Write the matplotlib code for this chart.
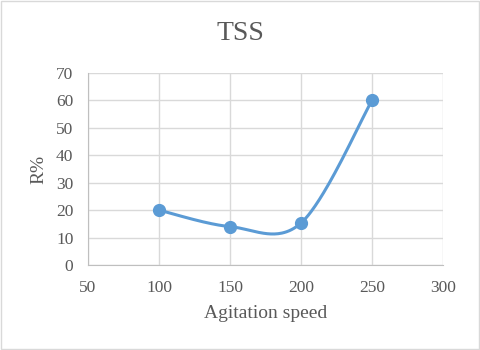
import numpy as np
import matplotlib
matplotlib.use("Agg")
import matplotlib.pyplot as plt
from matplotlib.patches import Rectangle

speed = [100, 150, 200, 250]
removal = [20, 14, 15.3, 60]

plt.rcParams['font.family'] = ['Liberation Serif', 'DejaVu Serif']
grey = '#595959'
blue = '#5B9BD5'


def excel_smooth(xs, ys, n=60):
    # Catmull-Rom style bezier, like Excel's "smoothed line"
    p = np.column_stack([xs, ys]).astype(float)
    pts = [p[0]]
    for i in range(len(p) - 1):
        p0 = p[i - 1] if i > 0 else p[i]
        p3 = p[i + 2] if i + 2 < len(p) else p[i + 1]
        c1 = p[i] + (p[i + 1] - p0) / 6
        c2 = p[i + 1] - (p3 - p[i]) / 6
        t = np.linspace(0, 1, n)[1:, None]
        seg = ((1 - t) ** 3) * p[i] + 3 * ((1 - t) ** 2) * t * c1 \
            + 3 * (1 - t) * t ** 2 * c2 + t ** 3 * p[i + 1]
        pts.extend(seg)
    pts = np.array(pts)
    return pts[:, 0], pts[:, 1]


fig = plt.figure(figsize=(4.8, 3.5), dpi=100)
ax = fig.add_axes([88 / 480, 1 - 265 / 350, (443 - 88) / 480, (265 - 73) / 350])

sx, sy = excel_smooth(speed, removal)
ax.plot(sx, sy, color=blue, lw=2.2, solid_capstyle='round', zorder=3)
ax.plot(speed, removal, 'o', color=blue, ms=8.5, zorder=4)

ax.set_xlim(50, 300)
ax.set_ylim(0, 70)
ax.set_xticks(range(50, 301, 50))
ax.set_yticks(range(0, 71, 10))
ax.grid(True, color='#D9D9D9', lw=1)
ax.set_axisbelow(True)
for s in ['top', 'right']:
    ax.spines[s].set_visible(False)
ax.spines['left'].set_color('#BFBFBF')
ax.spines['bottom'].set_color('#BFBFBF')
ax.tick_params(length=0, labelsize=12.5, colors=grey, pad=10.5)

fig.text(0.5, 1 - 33 / 350, 'TSS', fontsize=20, color=grey, ha='center', va='center')
ax.set_xlabel('Agitation speed', fontsize=14, color=grey, va='center')
ax.xaxis.set_label_coords(0.5, (265 - 313) / 192)
ax.set_ylabel('R%', fontsize=14, color=grey, va='center')
ax.yaxis.set_label_coords((38.5 - 88) / 355, 0.5)

fig.patches.append(Rectangle((0.002, 0.002), 0.996, 0.994, transform=fig.transFigure,
                             fill=False, edgecolor='#D9D9D9', lw=1))

plt.savefig('out.png', dpi=100)
